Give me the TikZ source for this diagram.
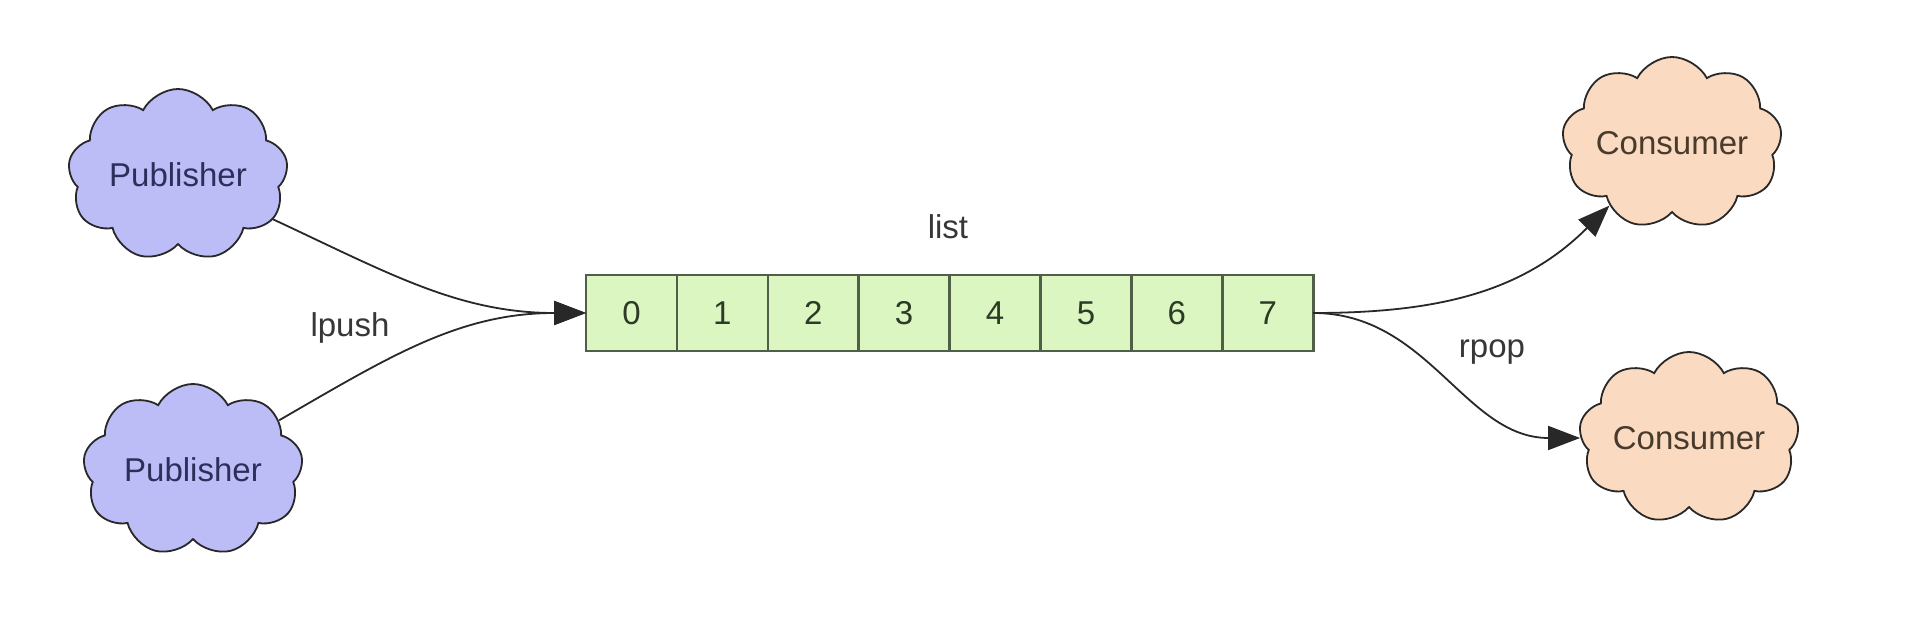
\documentclass[tikz,border=0pt]{standalone}
\usepackage{fontspec}
\setmainfont{Liberation Sans}
\usetikzlibrary{shapes.symbols,arrows.meta}
\definecolor{pubfill}{RGB}{188,188,247}
\definecolor{pubtext}{RGB}{46,46,90}
\definecolor{confill}{RGB}{250,218,192}
\definecolor{context}{RGB}{72,58,44}
\definecolor{cellfill}{RGB}{219,246,192}
\definecolor{celldraw}{RGB}{80,96,72}
\definecolor{celltext}{RGB}{45,58,38}
\definecolor{edge}{RGB}{40,40,40}
\definecolor{labtext}{RGB}{55,55,55}
\begin{document}
\begin{tikzpicture}[x=0.5pt,y=-0.5pt,
  txt/.style={font=\fontsize{16.5}{20}\selectfont},
  cloudbox/.style={cloud, cloud puffs=9, cloud puff arc=125, cloud ignores aspect,
    minimum width=110pt, minimum height=86pt, inner sep=0pt, draw=edge, line width=0.9pt, txt},
  pub/.style={cloudbox, fill=pubfill, text=pubtext},
  con/.style={cloudbox, fill=confill, text=context},
  cellbox/.style={rectangle, draw=celldraw, fill=cellfill, line width=1.3pt,
    minimum width=45.45pt, minimum height=38pt, inner sep=0pt, outer sep=0pt, txt, text=celltext},
  lab/.style={txt, text=labtext},
  conn/.style={draw=edge, line width=0.9pt, -{Triangle[length=16pt,width=12pt]}}
]
\useasboundingbox (0,0) rectangle (1906,630);
\fill[white] (0,0) rectangle (1906,630);

\node[pub] (p1) at (178,175) {Publisher};
\node[pub] (p2) at (193,470) {Publisher};
\node[con] (c1) at (1672,143) {Consumer};
\node[con] (c2) at (1689,438) {Consumer};

\foreach \i in {0,...,7}{
  \node[cellbox] (cell\i) at ({586+90.9*(\i+0.5)},313) {\i};
}

\node[lab] (list) at (948,227) {list};
\node[lab] (lpush) at (350,328) {lpush};
\node[lab] (rpop) at (1492,352) {rpop};

\draw[conn] (p1) to[out=-25,in=180] (cell0.west);
\draw[conn] (p2) to[out=30,in=180] (cell0.west);
\draw[conn] (cell7.east) to[out=0,in=225] (c1);
\draw[conn] (cell7.east) to[out=0,in=180] (c2);
\end{tikzpicture}
\end{document}
